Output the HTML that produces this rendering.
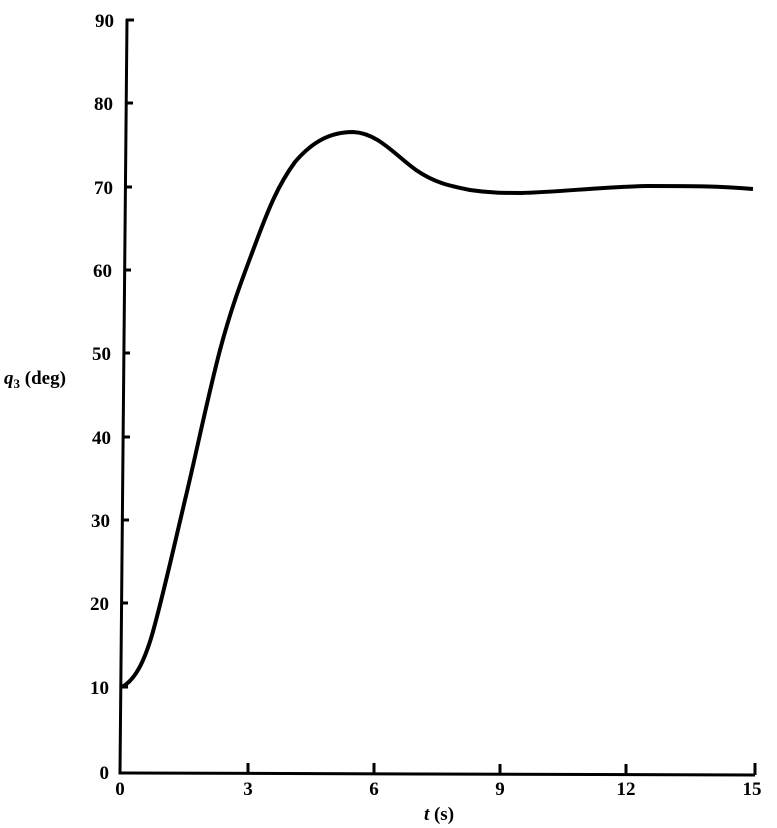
<!DOCTYPE html>
<html><head><style>body{margin:0;background:#fff}svg{display:block}text{font-family:"Liberation Serif",serif;font-weight:bold;font-size:19px;fill:#000}</style></head>
<body><svg width="777" height="828" viewBox="0 0 777 828">
<g stroke="#000" stroke-width="3" fill="none">
<path d="M127 19 L120 773 L755 775"/>
<path d="M126 20h8M126 103h7M125 187h7M124 270h7M123 353h7M123 437h7M122 520h7M121 603h7M121 687h7"/>
<path d="M248 763v11M374 763v12M500 764v11M626 764v11M755 763v12"/>
<path stroke-width="4" d="M122 687 C135 680 144 662 152 635 C162 600 172 555 185 500 C197 450 207 400 220 350 C232 305 242 280 255 245 C268 210 278 185 295 162 C312 142 330 132 353 132 C378 133 395 155 416 170 C435 183 450 186 470 190 C490 193 505 193 521 193 C560 192 600 187 647 186 C690 186 720 186 753 189"/>
</g>
<g text-anchor="end">
<text x="114" y="27">90</text><text x="113" y="110">80</text><text x="113" y="194">70</text>
<text x="112" y="277">60</text><text x="111" y="360">50</text><text x="111" y="444">40</text>
<text x="110" y="527">30</text><text x="109" y="610">20</text><text x="109" y="694">10</text>
<text x="109" y="779">0</text>
</g>
<g text-anchor="middle">
<text x="120" y="795">0</text><text x="248" y="795">3</text><text x="374" y="795">6</text>
<text x="500" y="795">9</text><text x="626" y="795">12</text><text x="752" y="795">15</text>
<text x="439" y="820"><tspan font-style="italic">t</tspan> (s)</text>
</g>
<text x="4" y="384"><tspan font-style="italic">q</tspan><tspan font-size="13" dy="4">3</tspan><tspan dy="-4"> (deg)</tspan></text>
</svg></body></html>
